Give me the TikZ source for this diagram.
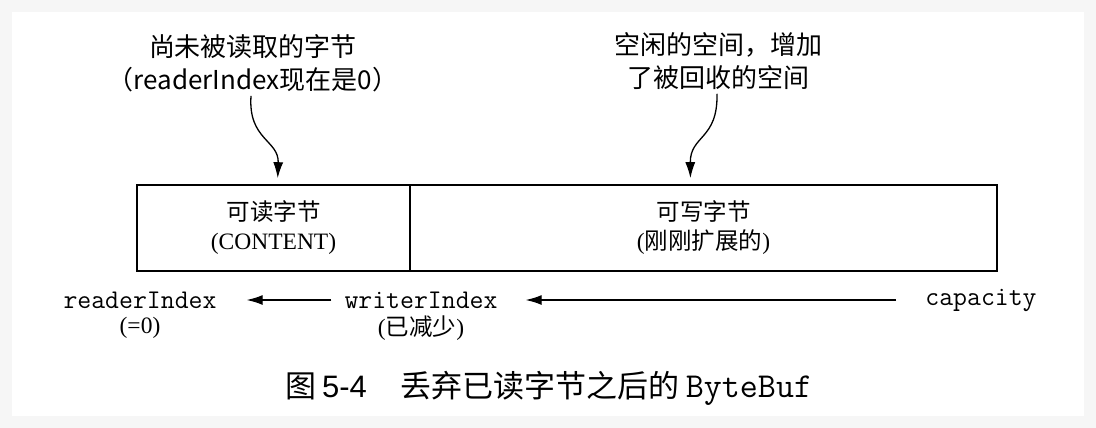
\documentclass[tikz,border=0pt]{standalone}
\usepackage{fontspec}
\setmainfont{Liberation Serif}
\setsansfont{Liberation Sans}
\newfontfamily\cjk{Noto Sans CJK SC}
\usetikzlibrary{arrows.meta}

\tikzset{
    note/.style={align=center, inner sep=0pt, font=\cjk\fontsize{26}{33}\selectfont},
    cell/.style={draw, line width=1.6pt, minimum height=86pt, inner sep=0pt, align=center, font=\fontsize{23.5}{29}\selectfont},
    idx/.style={inner sep=0pt, font=\ttfamily\fontsize{27}{30}\selectfont},
    sub/.style={inner sep=0pt, font=\fontsize{23.5}{27}\selectfont},
    pointer/.style={line width=1.3pt, -{Latex[length=16pt,width=10pt]}},
}

\begin{document}
\begin{tikzpicture}[x=1pt, y=-1pt]
    % page and card
    \fill[gray!7] (0,0) rectangle (1096,428);
    \fill[white] (12,12) rectangle (1084,416);

    % notes above the buffer
    \node[note] (unread) at (253,63) {尚未被读取的字节\\（readerIndex现在是0）};
    \node[note] (freed) at (718,61) {空闲的空间，增加\\了被回收的空间};

    % the buffer
    \node[cell, minimum width=273pt] (readable) at (273.5,228) {{\cjk 可读字节}\\(CONTENT)};
    \node[cell, minimum width=587pt] (writable) at (703.5,228) {{\cjk 可写字节}\\({\cjk 刚刚扩展的})};

    \draw[pointer, shorten >=6pt] ([xshift=-2pt,yshift=-4pt]unread.south) .. controls (248,140) and (279,140) .. ([xshift=4pt]readable.north);
    \draw[pointer, shorten >=6pt] ([xshift=-1pt,yshift=-4pt]freed.south) .. controls (718,140) and (690,135) .. ([xshift=-13pt]writable.north);

    % indices
    \node[idx] (ri) at (140,300) {readerIndex};
    \node[sub] (riz) at (140,328) {(=0)};
    \node[idx] (wi) at (421,300) {writerIndex};
    \node[sub] (wis) at (421,328) {({\cjk 已减少})};
    \node[idx] (cap) at (981,300) {capacity};

    \draw[pointer, shorten <=13pt, shorten >=30pt] (wi.west) -- (ri.east);
    \draw[pointer, shorten <=29pt, shorten >=28pt] (cap.west) -- (wi.east);

    % caption
    \node[inner sep=0pt, font=\fontsize{31}{36}\selectfont] (caption) at (549,388)
        {{\cjk 图}\,{\sffamily 5-4}\hspace{34pt}{\cjk 丢弃已读字节之后的}\hspace{6pt}{\ttfamily\fontsize{35}{36}\selectfont ByteBuf}};
\end{tikzpicture}
\end{document}
